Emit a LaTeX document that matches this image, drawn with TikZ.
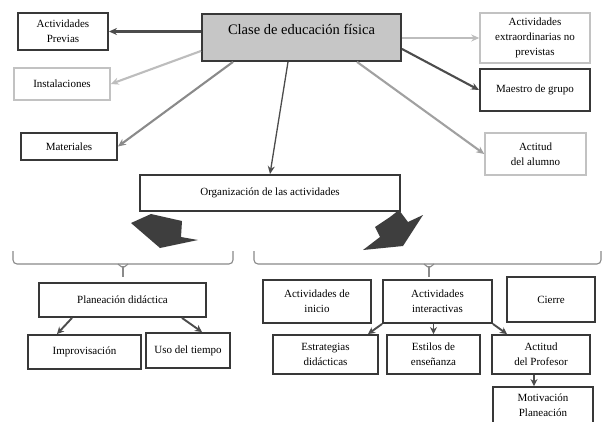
\documentclass[tikz,border=0pt]{standalone}
\usepackage{fontspec}
\setmainfont{Liberation Serif}
\usetikzlibrary{arrows.meta}
\definecolor{boxdark}{HTML}{383838}
\definecolor{boxlight}{HTML}{C2C2C2}
\definecolor{linedark}{HTML}{4C4C4C}
\definecolor{linemid}{HTML}{8A8A8A}
\definecolor{linelight}{HTML}{BDBDBD}
\definecolor{clasefill}{HTML}{C6C6C6}
\definecolor{blockfill}{HTML}{3E3E3E}
\begin{document}
\begin{tikzpicture}[x=1pt, y=-1pt,
  every node/.style={draw=boxdark, line width=1.9pt, fill=white, align=center,
    inner sep=2pt, font=\fontsize{11}{15}\selectfont},
  soft/.style={draw=boxlight, line width=1.5pt},
  arr/.style={-{Stealth[length=8pt, width=7pt]}, line width=2.1pt, draw=linedark},
  small/.style={-{Stealth[length=7pt, width=7pt]}, line width=1.9pt, draw=linedark},
  bracket/.style={draw=linemid, line width=1.1pt, rounded corners=4pt}
]
  \useasboundingbox (0,0) rectangle (603,421);
  \fill[white] (0,0) rectangle (603,421);

  \node (clase) at (301.5,13) [anchor=north, fill=clasefill, minimum width=199,
    text height=21pt, text depth=26pt, inner ysep=0pt,
    font=\fontsize{14.5}{16}\selectfont] {Clase de educación física};
  \node (previas) at (63,31.5) [minimum width=90, minimum height=37] {Actividades\\Previas};
  \node (instal) at (62,84) [soft, minimum width=96, minimum height=32] {Instalaciones};
  \node (mater) at (69,146.5) [minimum width=96, minimum height=27] {Materiales};
  \node (extra) at (535,38) [soft, minimum width=110, minimum height=50]
    {Actividades\\extraordinarias no\\previstas};
  \node (maestro) at (535,90) [minimum width=110, minimum height=42] {Maestro de grupo};
  \node (alumno) at (535.5,154) [soft, minimum width=101, minimum height=42] {Actitud\\del alumno};
  \node (organiz) at (270,193) [minimum width=260, minimum height=36]
    {Organización de las actividades};

  \node (planea) at (122.5,300) [minimum width=167, minimum height=34] {Planeación didáctica};
  \node (improv) at (84.5,352) [minimum width=113, minimum height=34] {Improvisación};
  \node (uso) at (188,350.5) [minimum width=84, minimum height=35] {Uso del tiempo};

  \node (inicio) at (317,301.5) [minimum width=108, minimum height=43] {Actividades de\\inicio};
  \node (interact) at (437.5,301.5) [minimum width=109, minimum height=43] {Actividades\\interactivas};
  \node (cierre) at (551,299.5) [minimum width=88, minimum height=45] {Cierre};
  \node (estrat) at (325.5,354.5) [minimum width=105, minimum height=39] {Estrategias\\didácticas};
  \node (estilos) at (433.5,354.5) [minimum width=93, minimum height=39] {Estilos de\\enseñanza};
  \node (actprof) at (541,354.5) [minimum width=98, minimum height=39] {Actitud\\del Profesor};
  \node (motiv) at (543,405.5) [minimum width=100, minimum height=37] {Motivación\\Planeación};

  \draw[arr] (clase.west |- previas.east) -- (previas.east);
  \draw[arr, draw=linelight] ([yshift=-13.5pt]clase.west) -- (instal.east);
  \draw[arr, draw=linemid] ([xshift=-68.5pt]clase.south) -- (mater.east);
  \draw[arr, line width=1.3pt] ([xshift=-13.5pt]clase.south) -- (organiz.north);
  \draw[arr, draw=linelight] (clase.east |- extra.west) -- (extra.west);
  \draw[arr] ([yshift=-11.5pt]clase.east) -- (maestro.west);
  \draw[arr, draw=linemid!80!white] ([xshift=55.5pt]clase.south) -- (alumno.west);

  \fill[blockfill] (131,223) -- (151,214) -- (182,221) -- (181,237) -- (198,240)
    -- (160,248) -- cycle;
  \fill[blockfill] (399,210) -- (408,222) -- (423,215) -- (403,246) -- (363,250)
    -- (380,237) -- (375,227) -- (390,217) -- cycle;

  \draw[bracket] (13,251) -- (13,264) -- (233,264) -- (233,251);
  \draw[bracket, rounded corners=2pt] (118,264) -- (123,268) -- (128,264);
  \draw[bracket] (123,267) -- (123,277);
  \draw[bracket] (254,251) -- (254,264) -- (601,264) -- (601,251);
  \draw[bracket, rounded corners=2pt] (424,264) -- (429,268) -- (434,264);
  \draw[bracket] (429,267) -- (429,277);

  \draw[small] ([xshift=-50.5pt]planea.south) -- ([xshift=-27.5pt]improv.north);
  \draw[small] ([xshift=59.5pt]planea.south) -- ([xshift=14pt]uso.north);
  \draw[small] (interact.south west) -- ([xshift=42.5pt]estrat.north);
  \draw[small] (estilos.north |- interact.south) -- (estilos.north);
  \draw[small] (interact.south east) -- ([xshift=-34pt]actprof.north);
  \draw[small] ([xshift=-7pt]actprof.south) -- ([xshift=-9pt]motiv.north);
\end{tikzpicture}
\end{document}
